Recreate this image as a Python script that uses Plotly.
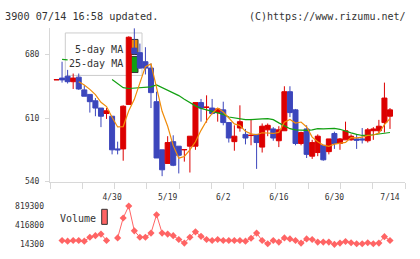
import plotly.graph_objects as go
import pandas as pd

# ---- data ----
opens  = [652, 654, 656, 650, 655, 641, 636, 629, 621, 615, 612, 576, 576, 625, 687, 682, 672, 665, 628, 575,
          560, 584, 579, 575, 579, 579, 627, 621.7, 621, 616, 619, 605, 584, 599, 592, 590.7, 592, 578, 597, 598,
          585, 596, 639, 619, 582, 598, 568, 572, 580, 573, 593, 582, 586, 586, 587, 587, 585, 596, 596, 605, 612]
highs  = [652.3, 672, 663, 659, 659, 646, 636, 632, 621, 621, 612, 584, 624, 700, 709, 692, 688, 670, 639, 575,
          590, 591, 579, 575.3, 590, 627, 631, 635, 631, 620, 628, 605, 602, 624, 598, 609, 592, 604, 604, 600,
          601, 645, 645, 620, 595, 602, 586, 592, 580, 587, 595, 588, 606, 592, 592, 599, 599, 600, 608, 649, 621]
lows   = [652, 649, 648, 642, 641, 634, 616, 612, 600, 609, 570, 570, 563, 625, 680, 664, 658, 621, 566, 546,
          560, 557, 549, 562, 550, 575, 606, 605, 614, 606, 602, 583, 574, 595, 581, 580, 554, 572, 590, 585,
          578, 596, 611, 580, 580, 566, 565, 568, 563, 570, 576, 575, 586, 585, 576, 582, 583, 586, 593, 594, 598]
closes = [652.3, 652, 650, 654, 642, 634, 628, 621, 612, 618, 575, 575, 623, 699, 681, 665, 665, 638, 566, 553,
          583, 558, 569, 575.3, 590, 627, 621, 622, 615, 620, 605, 588, 590, 606, 588, 591, 583, 601, 602, 588,
          597, 639, 616, 582, 594, 570, 583, 590, 564, 587, 582, 587, 596, 590, 585.5, 586, 597, 598, 601, 632, 619]
volumes = [None, 95400, 81900, 95400, 95400, 81900, 163000, 196800, 230600, 95400, None, 149500, 568500, 819300,
           298200, 163000, 163000, 250900, 636200, 250900, 230600, 196800, 115700, 41300, 163000, 277900, 183200,
           115700, 95400, 115700, 95400, 95400, 95400, 95400, 81900, 142700, 250900, 95400, 27800, 95400, 61600,
           149500, 129200, 95400, 41300, 129200, 115700, 61600, 61600, 61600, 14300, 41300, 75100, 48100, 27800,
           27800, 48100, 27800, 41300, 176500, 95400]
ma25 = [None, 674.7, 674, None, None, None, None, None, None, None, 652.4, 648.2, 643.5, 642.5, 643, 643.5, 643.5,
        644.3, 646.4, 643.5, 640.4, 637.6, 634.7, 630.8, 627, 623.4, 620.6, 618.8, 617.8, 616, 614, 611.1, 610, 609,
        608.2, 608.2, 608.2, 609, 609.3, 608.2, 604.7, 601.1, 598.3, 596.9, 596.5, 596.5, 597, 598.3, 598, 598.7,
        598.7, 597.6, 595.4, 593.7, 592, 590.8, 590.8, 591.6, 592.3, 593.4, 594.1]
label_idx = [10, 20, 30, 40, 50, 60]
label_text = ["4/30", "5/19", "6/2", "6/16", "6/30", "7/14"]
price_ticks = [540, 610, 680]
vol_ticks = [14300, 416800, 819300]
vol_tick_text = ["14300", "416800", "819300"]

x = list(range(len(closes)))
ma5 = pd.Series(closes).rolling(5).mean()

RED = "#dc0000"
BLUE = "#3c46bc"
ORANGE = "#f08c0a"
GREEN = "#12a012"
VOLC = "#ff6464"
AX = "#d8d8d8"
TXT = "#333333"
MONO = "DejaVu Sans Mono"

W, H = 420, 259
def px(v): return v / W
def py(v): return 1 - v / H

fig = go.Figure()
fig.add_trace(go.Scatter(x=x, y=ma25, mode="lines", line=dict(color=GREEN, width=1.2),
                         connectgaps=False, hoverinfo="skip", xaxis="x", yaxis="y"))
fig.add_trace(go.Scatter(x=x, y=ma5, mode="lines", line=dict(color=ORANGE, width=1.2),
                         hoverinfo="skip", xaxis="x", yaxis="y"))
fig.add_trace(go.Candlestick(x=x, open=opens, high=highs, low=lows, close=closes,
                             increasing=dict(line=dict(color=RED, width=1), fillcolor=RED),
                             decreasing=dict(line=dict(color=BLUE, width=1), fillcolor=BLUE),
                             whiskerwidth=0, xaxis="x", yaxis="y"))
fig.add_trace(go.Scatter(x=x, y=volumes, mode="lines+markers", line=dict(color=VOLC, width=1),
                         marker=dict(symbol="diamond", size=5.5, color=VOLC), cliponaxis=False,
                         connectgaps=False, xaxis="x2", yaxis="y2"))

xr = [-1.17, 62.70]
xdom = [px(50), px(405)]
fig.update_layout(
    width=W, height=H, margin=dict(l=0, r=0, t=0, b=0, pad=0),
    paper_bgcolor="white", plot_bgcolor="white", showlegend=False, boxgap=0.1, boxgroupgap=0,
    xaxis=dict(domain=xdom, range=xr, anchor="y", showgrid=False, zeroline=False,
               showline=True, linecolor=AX, linewidth=1, rangeslider=dict(visible=False),
               tickmode="array", tickvals=label_idx, ticktext=label_text, ticks="",
               ticklabelstandoff=8, tickfont=dict(family=MONO, size=8, color=TXT),
               minor=dict(tickmode="linear", tick0=xr[0], dtick=(xr[1] - xr[0]) / 11,
                          ticks="outside", ticklen=6, tickcolor=AX, tickwidth=1, showgrid=False)),
    yaxis=dict(domain=[py(184), py(25)], range=[540, 709], anchor="x", showgrid=False, zeroline=False,
               showline=True, linecolor=AX, linewidth=1, tickmode="array", tickvals=price_ticks,
               ticks="outside", ticklen=4, tickcolor=AX, ticklabelstandoff=4,
               tickfont=dict(family=MONO, size=8, color=TXT)),
    xaxis2=dict(domain=xdom, range=xr, anchor="y2", matches="x", showgrid=False, zeroline=False,
                showline=False, showticklabels=False, ticks=""),
    yaxis2=dict(domain=[py(249), py(209.3)], range=[14300, 819300], anchor="x2", showgrid=False,
                zeroline=False, showline=False, tickmode="array", tickvals=vol_ticks,
                ticktext=vol_tick_text, ticks="",
                ticklabelstandoff=5, tickfont=dict(family=MONO, size=8, color=TXT)),
)

shapes = [
    dict(type="rect", xref="paper", yref="paper", x0=px(65.3), x1=px(142), y0=py(74), y1=py(30),
         line=dict(color="#cccccc", width=1), fillcolor="white", layer="below"),
    dict(type="rect", xref="paper", yref="paper", x0=px(130.7), x1=px(138), y0=py(52.3), y1=py(36.7),
         line=dict(color="#333333", width=1), fillcolor=ORANGE, layer="below"),
    dict(type="rect", xref="paper", yref="paper", x0=px(130.7), x1=px(138), y0=py(71), y1=py(54.3),
         line=dict(color="#333333", width=1), fillcolor=GREEN, layer="below"),
    dict(type="rect", xref="paper", yref="paper", x0=px(101.7), x1=px(107.3), y0=py(228.3), y1=py(212.7),
         line=dict(color="#333333", width=1), fillcolor=VOLC, layer="above"),
]
fig.update_layout(shapes=shapes)

ann = [
    dict(text="3900 07/14 16:58 updated.", x=px(3), y=py(13), xanchor="left", yanchor="middle",
         font=dict(family=MONO, size=10.2, color=TXT)),
    dict(text="(C)https://www.rizumu.net/", x=px(408), y=py(13), xanchor="right", yanchor="middle",
         font=dict(family=MONO, size=10, color=TXT)),
    dict(text="5-day MA", x=px(124.5), y=py(46.7), xanchor="right", yanchor="middle",
         font=dict(family=MONO, size=10, color=TXT)),
    dict(text="25-day MA", x=px(124.5), y=py(61.7), xanchor="right", yanchor="middle",
         font=dict(family=MONO, size=10, color=TXT)),
    dict(text="Volume", x=px(58), y=py(222), xanchor="left", yanchor="middle",
         font=dict(family=MONO, size=10, color=TXT)),
]
for a in ann:
    a.update(xref="paper", yref="paper", showarrow=False)
fig.update_layout(annotations=ann)

fig.write_html("out.html")
